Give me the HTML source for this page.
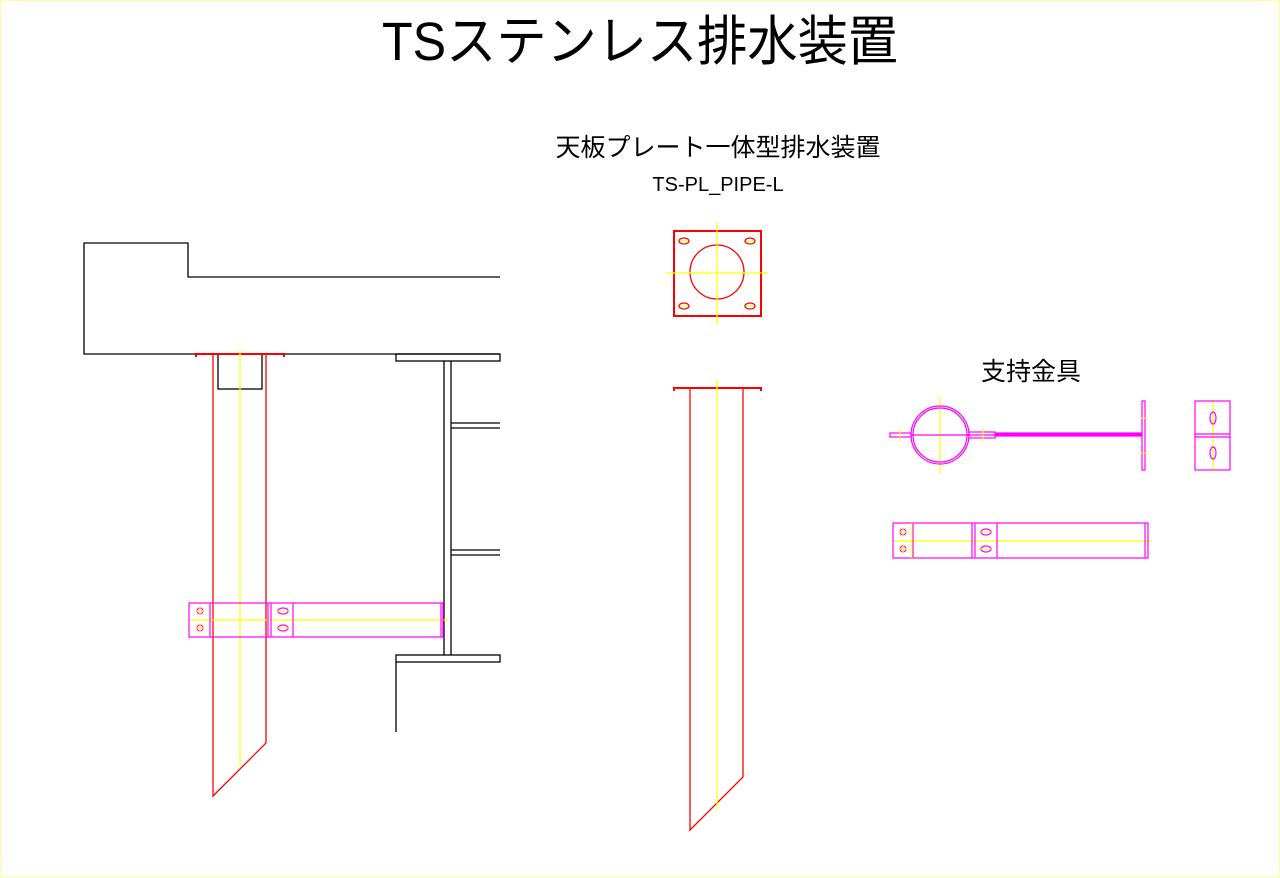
<!DOCTYPE html>
<html><head><meta charset="utf-8"><style>
html,body{margin:0;padding:0;background:#fff;}
svg{display:block}
text{font-family:"Liberation Sans","Noto Sans CJK JP",sans-serif;}
</style></head><body>
<svg width="1280" height="878" viewBox="0 0 1280 878" xmlns="http://www.w3.org/2000/svg">
<rect x="0.5" y="0.5" width="1279" height="877" fill="#fff" stroke="#ffff99" stroke-width="1"/>
<text x="640" y="60" font-size="54" text-anchor="middle" transform="translate(640 0) scale(0.93 1) translate(-640 0)">TSステンレス排水装置</text>
<text x="718" y="156" font-size="25" text-anchor="middle">天板プレート一体型排水装置</text>
<text x="718" y="191" font-size="20" text-anchor="middle">TS-PL_PIPE-L</text>
<text x="1031" y="380" font-size="25" text-anchor="middle">支持金具</text>

<g fill="none" stroke="#000" stroke-width="1.3">
<polyline points="500,277 188,277 188,243 84,243 84,354 500,354"/>
<rect x="218" y="354" width="44" height="35"/>
<rect x="396" y="354" width="104" height="7"/>
<rect x="396" y="655" width="104" height="7"/>
<line x1="444" y1="361" x2="444" y2="655"/><line x1="451" y1="361" x2="451" y2="655"/>
<line x1="451" y1="423" x2="500" y2="423"/><line x1="451" y1="428" x2="500" y2="428"/>
<line x1="451" y1="550" x2="500" y2="550"/><line x1="451" y1="555" x2="500" y2="555"/>
<polyline points="396,662 396,732"/>
</g>
<g fill="none" stroke="#ff0000" stroke-width="1.3">
<polyline points="196,357 196,354 284,354 284,357" stroke-width="2"/>
<polyline points="213,354 213,796 266,743 266,354"/>
<rect x="674" y="231" width="87" height="85" stroke-width="2"/>
<circle cx="717" cy="272" r="27"/>
<polyline points="674,391 674,388 761,388 761,391" stroke-width="2"/>
<polyline points="690,388 690,830 743,777 743,388"/>
<ellipse cx="684" cy="241" rx="5" ry="3"/><ellipse cx="750" cy="241" rx="5" ry="3"/>
<ellipse cx="684" cy="306" rx="5" ry="3"/><ellipse cx="750" cy="306" rx="5" ry="3"/>
</g>
<g stroke="#ffff00" stroke-width="1.2" fill="none">
<line x1="240" y1="350" x2="240" y2="765"/>
<line x1="717" y1="222" x2="717" y2="324"/><line x1="666" y1="273" x2="768" y2="273"/>
<line x1="717" y1="380" x2="717" y2="810"/>
<line x1="189" y1="620" x2="448" y2="620"/>
<line x1="940" y1="397" x2="940" y2="474"/>
<line x1="893" y1="541" x2="1152" y2="541"/>
<line x1="1213" y1="400" x2="1213" y2="470"/>
</g>
<g fill="none" stroke="#ff00ff" stroke-width="1.2">
<rect x="189" y="603" width="254" height="34"/>
<line x1="210" y1="603" x2="210" y2="637"/><line x1="268" y1="603" x2="268" y2="637"/>
<line x1="271" y1="603" x2="271" y2="637"/><line x1="293" y1="603" x2="293" y2="637"/>
<line x1="441" y1="603" x2="441" y2="637"/>
<circle cx="200" cy="611" r="3"/><circle cx="200" cy="628" r="3"/>
<ellipse cx="283" cy="611" rx="5" ry="3"/><ellipse cx="283" cy="628" rx="5" ry="3"/>
<circle cx="940" cy="435" r="29"/><circle cx="940" cy="435" r="27"/>
<rect x="890" y="433" width="21" height="4"/>
<rect x="969" y="432" width="26" height="6"/>
<rect x="995" y="433" width="147" height="3" fill="#ff00ff"/>
<line x1="911" y1="435" x2="1142" y2="435"/>
<rect x="1142" y="401" width="3" height="69"/>
<rect x="1195" y="401" width="35" height="69"/>
<line x1="1195" y1="434" x2="1230" y2="434"/><line x1="1195" y1="437" x2="1230" y2="437"/>
<ellipse cx="1213" cy="418" rx="3" ry="6"/><ellipse cx="1213" cy="453" rx="3" ry="6"/>
<rect x="893" y="523" width="255" height="35"/>
<line x1="913" y1="523" x2="913" y2="558"/><line x1="972" y1="523" x2="972" y2="558"/>
<line x1="975" y1="523" x2="975" y2="558"/><line x1="997" y1="523" x2="997" y2="558"/>
<line x1="1145" y1="523" x2="1145" y2="558"/>
<circle cx="903" cy="532" r="3"/><circle cx="903" cy="549" r="3"/>
<ellipse cx="986" cy="532" rx="5" ry="3"/><ellipse cx="986" cy="549" rx="5" ry="3"/>
</g>
<g stroke="#ffff00" stroke-width="1" fill="none">
<line x1="196" y1="611" x2="204" y2="611"/><line x1="200" y1="606" x2="200" y2="616"/>
<line x1="196" y1="628" x2="204" y2="628"/><line x1="200" y1="623" x2="200" y2="633"/>
<line x1="278" y1="611" x2="288" y2="611"/><line x1="278" y1="628" x2="288" y2="628"/>
<line x1="899" y1="532" x2="907" y2="532"/><line x1="903" y1="527" x2="903" y2="537"/>
<line x1="899" y1="549" x2="907" y2="549"/><line x1="903" y1="544" x2="903" y2="554"/>
<line x1="981" y1="532" x2="991" y2="532"/><line x1="981" y1="549" x2="991" y2="549"/>
<line x1="680" y1="241" x2="688" y2="241"/><line x1="746" y1="241" x2="754" y2="241"/>
<line x1="680" y1="306" x2="688" y2="306"/><line x1="746" y1="306" x2="754" y2="306"/>
<line x1="900" y1="429" x2="900" y2="441"/><line x1="983" y1="428" x2="983" y2="442"/>
<line x1="1140" y1="418" x2="1148" y2="418"/><line x1="1140" y1="453" x2="1148" y2="453"/>
<line x1="912" y1="523" x2="912" y2="560"/>
</g>
</svg>
</body></html>
